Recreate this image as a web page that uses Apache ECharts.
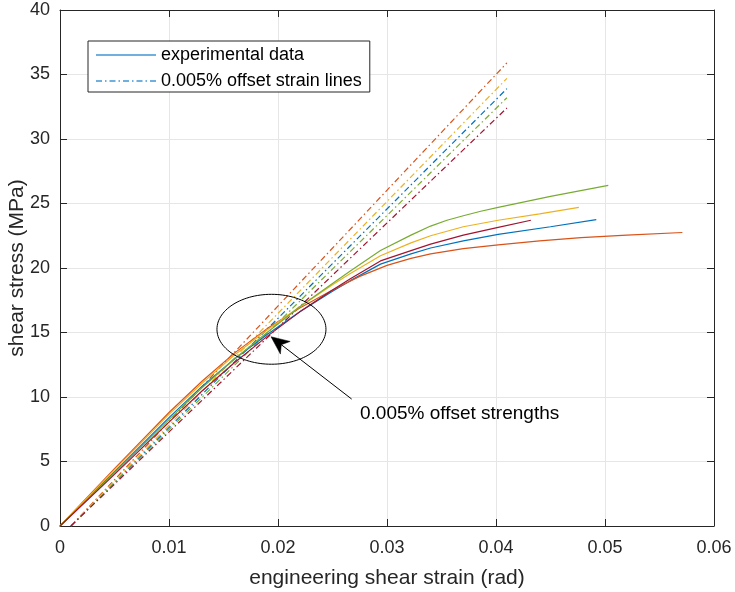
<!DOCTYPE html>
<html><head><meta charset="utf-8">
<script src="https://cdn.jsdelivr.net/npm/echarts@6/dist/echarts.min.js"></script>
<style>html,body{margin:0;padding:0;background:#fff}#c{width:735px;height:592px}</style>
</head><body><div id="c"></div>
<script>
// ---------- data ----------
const xTickValues = [0, 0.01, 0.02, 0.03, 0.04, 0.05, 0.06];
const yTickValues = [0, 5, 10, 15, 20, 25, 30, 35, 40];

// experimental curves (strain in rad, stress in MPa)
const blueStrain   = [0,0.005,0.01,0.013,0.016,0.019,0.022,0.025,0.0266,0.0294,0.0322,0.034,0.037,0.0402,0.045,0.0492];
const blueStress   = [0,4.2,8.4,10.8,12.95,14.85,16.6,18.2,19.0,20.3,21.1,21.55,22.1,22.6,23.2,23.75];
const orangeStrain = [0,0.005,0.01,0.013,0.016,0.019,0.022,0.025,0.0275,0.03,0.0322,0.034,0.037,0.0402,0.044,0.0478,0.052,0.0571];
const orangeStress = [0,4.45,8.8,11.2,13.4,15.3,16.9,18.3,19.35,20.2,20.75,21.1,21.5,21.8,22.1,22.35,22.55,22.75];
const yellowStrain = [0,0.005,0.01,0.013,0.016,0.019,0.022,0.025,0.0266,0.0294,0.0322,0.034,0.037,0.0402,0.044,0.0476];
const yellowStress = [0,4.35,8.65,11.05,13.25,15.2,17.0,18.7,19.55,20.95,21.95,22.5,23.2,23.7,24.2,24.7];
const greenStrain  = [0,0.005,0.01,0.013,0.016,0.019,0.022,0.025,0.0266,0.0294,0.0322,0.034,0.0355,0.037,0.0386,0.0402,0.045,0.0503];
const greenStress  = [0,4.1,8.25,10.7,12.95,15.0,17.0,18.8,19.75,21.35,22.55,23.25,23.7,24.05,24.4,24.7,25.55,26.4];
const redStrain    = [0,0.005,0.01,0.013,0.016,0.019,0.022,0.025,0.0266,0.0294,0.0322,0.034,0.037,0.0402,0.0432];
const redStress    = [0,4.0,8.05,10.45,12.65,14.7,16.6,18.3,19.15,20.55,21.35,21.85,22.55,23.15,23.7];

// 0.005% offset strain lines: start strain, end strain, end stress per specimen
const offsetStartStrain = [0.001, 0.001, 0.001, 0.001, 0.001];
const offsetEndStrain   = [0.041, 0.041, 0.041, 0.041, 0.041];
const offsetEndStress   = [33.9, 35.9, 34.7, 33.2, 32.4]; // blue, orange, yellow, green, dark red

const legendLabels = ['experimental data', '0.005% offset strain lines'];
const annotationText = '0.005% offset strengths';

// ---------- styles ----------
const colors = ['#0072BD', '#D95319', '#EDB120', '#77AC30', '#A2142F'];
const FONT = '"Liberation Sans", Arial, Helvetica, sans-serif';
const AX = '#262626';

const curves = [
  [blueStrain, blueStress], [orangeStrain, orangeStress], [yellowStrain, yellowStress],
  [greenStrain, greenStress], [redStrain, redStress]
];
const zip = (a, b) => a.map((v, i) => [v, b[i]]);

const series = [];
curves.forEach((c, i) => {
  series.push({
    name: i === 0 ? legendLabels[1] : 'offset ' + i,
    type: 'line', xAxisIndex: 0, yAxisIndex: 0,
    data: [[offsetStartStrain[i], 0], [offsetEndStrain[i], offsetEndStress[i]]],
    symbol: 'none', silent: true,
    lineStyle: { color: colors[i], width: 1.2, type: [6, 3, 1.5, 3] },
    itemStyle: { color: colors[i] }, z: 2
  });
});
curves.forEach((c, i) => {
  series.push({
    name: i === 0 ? legendLabels[0] : 'specimen ' + (i + 1),
    type: 'line', xAxisIndex: 0, yAxisIndex: 0,
    data: zip(c[0], c[1]),
    symbol: 'none', smooth: false, silent: true,
    lineStyle: { color: colors[i], width: 1.2 },
    itemStyle: { color: colors[i] }, z: 3
  });
});

const fmtX = v => v === 0 ? '0' : v.toFixed(2);
const baseX = {
  type: 'value', min: xTickValues[0], max: xTickValues[xTickValues.length - 1],
  interval: xTickValues[1] - xTickValues[0]
};
const baseY = {
  type: 'value', min: yTickValues[0], max: yTickValues[yTickValues.length - 1],
  interval: yTickValues[1] - yTickValues[0]
};

const chart = echarts.init(document.getElementById('c'), null, { renderer: 'canvas' });
chart.setOption({
  animation: false,
  backgroundColor: '#fff',
  textStyle: { fontFamily: FONT },
  grid: { left: 60, right: 21, top: 10, bottom: 66, containLabel: false, outerBoundsMode: 'none' },
  legend: {
    data: legendLabels, left: 88, top: 41, orient: 'vertical',
    itemWidth: 60, itemHeight: 14, itemGap: 8, selectedMode: false,
    itemStyle: { opacity: 0 },
    lineStyle: { color: '#6fb0de' },
    padding: [5, 8, 2, 7], borderColor: AX, borderWidth: 1, backgroundColor: '#fff',
    textStyle: { fontFamily: FONT, fontSize: 18, color: '#000', lineHeight: 18 }
  },
  xAxis: [
    Object.assign({}, baseX, {
      position: 'bottom',
      name: 'engineering shear strain (rad)', nameLocation: 'middle', nameGap: 42,
      nameMoveOverlap: false,
      nameTextStyle: { fontFamily: FONT, fontSize: 21, color: AX },
      axisLine: { show: true, onZero: false, lineStyle: { color: AX, width: 1 } },
      axisTick: { show: true, inside: true, length: 7, lineStyle: { color: AX } },
      axisLabel: { formatter: fmtX, fontFamily: FONT, fontSize: 18, color: AX, margin: 13 },
      splitLine: { show: true, lineStyle: { color: '#e6e6e6', width: 1 } }
    }),
    Object.assign({}, baseX, {
      position: 'top',
      axisLine: { show: true, onZero: false, lineStyle: { color: AX, width: 1 } },
      axisTick: { show: true, inside: true, length: 7, lineStyle: { color: AX } },
      axisLabel: { show: false }, splitLine: { show: false }
    })
  ],
  yAxis: [
    Object.assign({}, baseY, {
      position: 'left',
      name: 'shear stress (MPa)', nameLocation: 'middle', nameGap: 32,
      nameMoveOverlap: false,
      nameTextStyle: { fontFamily: FONT, fontSize: 21, color: AX },
      axisLine: { show: true, onZero: false, lineStyle: { color: AX, width: 1 } },
      axisTick: { show: true, inside: true, length: 7, lineStyle: { color: AX } },
      axisLabel: { fontFamily: FONT, fontSize: 18, color: AX, margin: 10 },
      splitLine: { show: true, lineStyle: { color: '#e6e6e6', width: 1 } }
    }),
    Object.assign({}, baseY, {
      position: 'right',
      axisLine: { show: true, onZero: false, lineStyle: { color: AX, width: 1 } },
      axisTick: { show: true, inside: true, length: 7, lineStyle: { color: AX } },
      axisLabel: { show: false }, splitLine: { show: false }
    })
  ],
  series: series
});

// ---------- annotations (ellipse, arrow, text) in data coordinates ----------
const ellipseCenter = [0.0194, 15.25];
const ellipseRadii = [0.0050, 2.71];
const arrowTail = [0.02676, 9.84];
const arrowTip = [0.01936, 14.67];
const textAnchor = [0.02752, 8.7];

const px = p => chart.convertToPixel({ gridIndex: 0 }, p);
const c0 = px(ellipseCenter);
const cR = px([ellipseCenter[0] + ellipseRadii[0], ellipseCenter[1] + ellipseRadii[1]]);
const rx = Math.abs(cR[0] - c0[0]), ry = Math.abs(cR[1] - c0[1]);
const ellPts = [];
for (let k = 0; k <= 120; k++) {
  const t = k / 120 * Math.PI * 2;
  ellPts.push([c0[0] + rx * Math.cos(t), c0[1] + ry * Math.sin(t)]);
}
const tail = px(arrowTail), tip = px(arrowTip);
const dx = tip[0] - tail[0], dy = tip[1] - tail[1];
const L = Math.hypot(dx, dy), ux = dx / L, uy = dy / L, nx = -uy, ny = ux;
const hl = 18, hw = 8, notch = 13;
const base = [tip[0] - ux * hl, tip[1] - uy * hl];
const head = [
  tip,
  [base[0] + nx * hw, base[1] + ny * hw],
  [tip[0] - ux * notch, tip[1] - uy * notch],
  [base[0] - nx * hw, base[1] - ny * hw]
];
const tp = px(textAnchor);

chart.setOption({
  graphic: [
    { type: 'polyline', shape: { points: ellPts }, style: { stroke: '#000', lineWidth: 1, fill: null }, z: 10, silent: true },
    { type: 'line', shape: { x1: tail[0], y1: tail[1], x2: tip[0] - ux * 10, y2: tip[1] - uy * 10 }, style: { stroke: '#000', lineWidth: 1 }, z: 10, silent: true },
    { type: 'polygon', shape: { points: head }, style: { fill: '#000', stroke: '#000', lineWidth: 0.5 }, z: 10, silent: true },
    { type: 'text', x: tp[0], y: tp[1], style: { text: annotationText, font: '19px ' + FONT, fill: '#000', textAlign: 'left', textVerticalAlign: 'middle' }, z: 10, silent: true }
  ]
});
</script>
</body></html>
